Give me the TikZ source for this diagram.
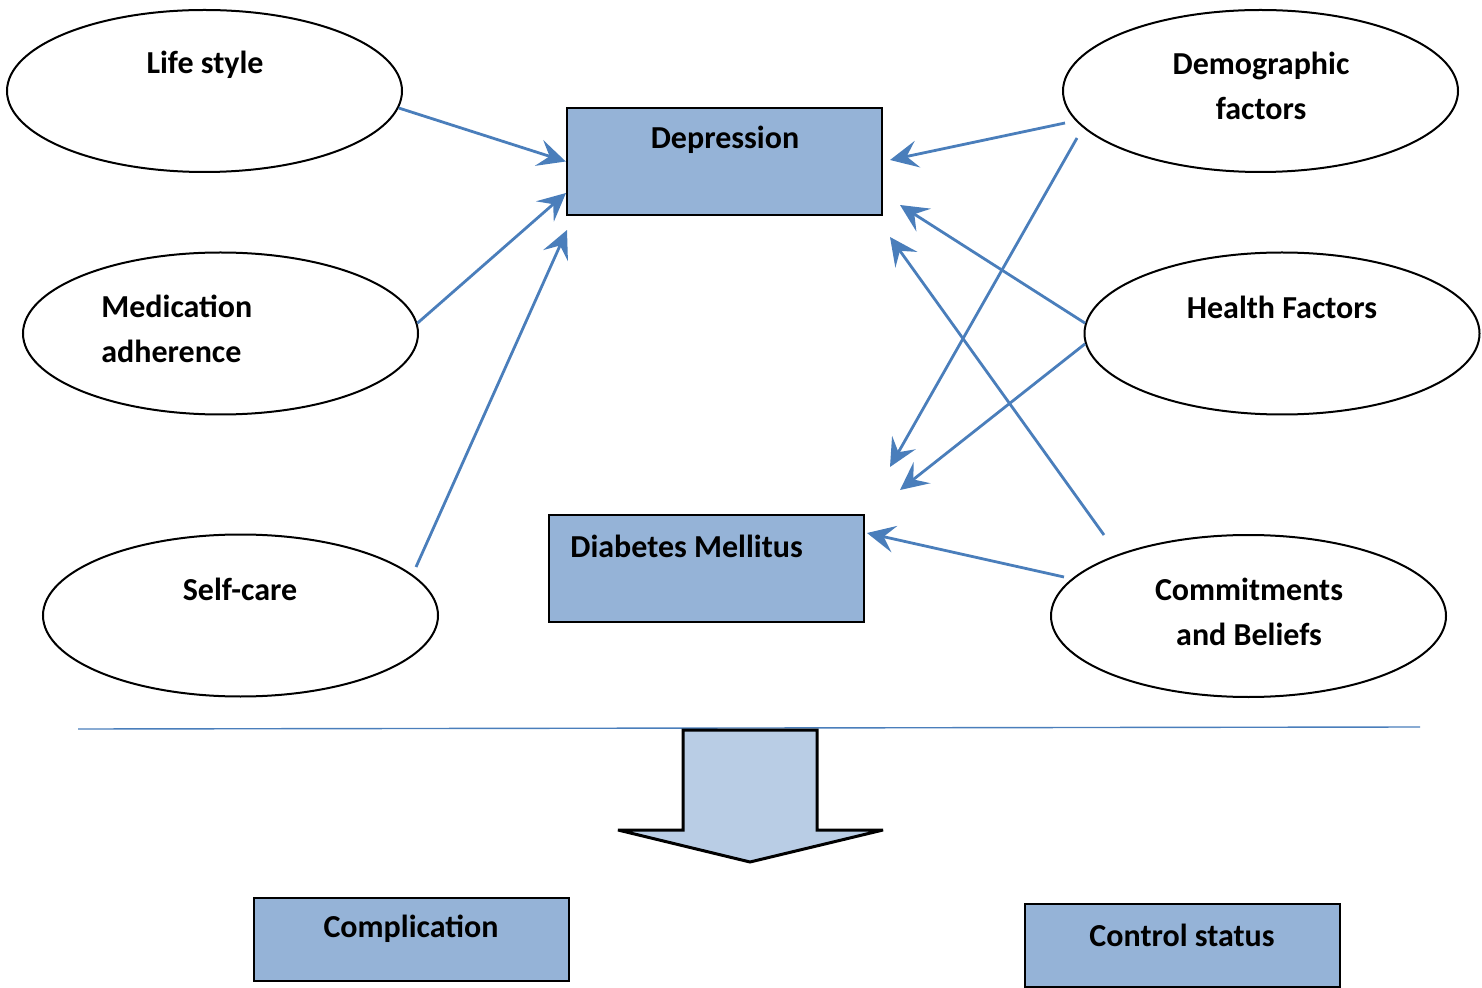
\documentclass[tikz,border=0pt]{standalone}
\usepackage{fontspec}
\setmainfont{Carlito}
\usepackage{tikz}
\usetikzlibrary{shapes.geometric, arrows.meta, positioning, calc}
\definecolor{linkblue}{HTML}{4A7EBB}
\definecolor{boxblue}{HTML}{95B3D7}
\definecolor{arrowfill}{HTML}{B9CDE5}
\tikzstyle{arrow} = [line width=1.4pt, draw=linkblue, -{Stealth[length=14pt, width=13.5pt, inset=5.5pt, fill=linkblue]}]

\begin{document}
\begin{tikzpicture}
	[x=0.5pt, y=-0.5pt,
	factor/.style={draw, ellipse, line width=1pt, inner sep=0pt, minimum width=197.5pt, minimum height=81pt},
	box/.style={draw, line width=1.2pt, fill=boxblue, inner sep=0pt, minimum width=157.5pt},
	lbl/.style={font=\bfseries\fontsize{16}{22.5}\selectfont, align=center, inner sep=0pt}]
	\useasboundingbox (0,0) rectangle (1482,988);

	% factors on the left
	\node[factor] (life) at (204.5, 91) {};
	\node[lbl] (life-t) at (205, 65) {Life style};
	\node[factor] (med) at (220.5, 333.5) {};
	\node[lbl, align=left, anchor=west] (med-t) at (101, 329) {Medication\\adherence};
	\node[factor] (self) at (240.5, 615.5) {};
	\node[lbl] (self-t) at (240, 589) {Self-care};

	% factors on the right
	\node[factor] (demo) at (1260.5, 91) {};
	\node[lbl] (demo-t) at (1261, 86) {Demographic\\factors};
	\node[factor] (health) at (1282, 333.5) {};
	\node[lbl] (health-t) at (1282, 307) {Health Factors};
	\node[factor] (commit) at (1248.5, 616) {};
	\node[lbl] (commit-t) at (1249, 612) {Commitments\\and Beliefs};

	% boxes
	\node[box, minimum height=53.5pt] (dep) at (724.5, 161.5) {};
	\node[lbl] (dep-t) at (725, 140) {Depression};
	\node[box, minimum height=53.5pt] (dm) at (706.5, 568.5) {};
	\node[lbl, anchor=west] (dm-t) at (570, 546) {Diabetes Mellitus};
	\node[box, minimum height=41.5pt] (comp) at (411.5, 939.5) {};
	\node[lbl] (comp-t) at (411, 929) {Complication};
	\node[box, minimum height=41.5pt] (ctrl) at (1182.5, 945.5) {};
	\node[lbl] (ctrl-t) at (1182, 935) {Control status};

	% free arrow ends
	\coordinate (d2) at (566, 193);
	\coordinate (d3) at (567, 230);
	\coordinate (d4) at (890, 160);
	\coordinate (d5) at (900, 205);
	\coordinate (d6) at (890, 237);
	\coordinate (m7) at (890, 467);
	\coordinate (m8) at (900, 490);
	\coordinate (m9) at (867, 533);
	\coordinate (c3) at (416, 567);
	\coordinate (c4) at (1065, 123);
	\coordinate (c6) at (1104, 535);
	\coordinate (c7) at (1077, 138);
	\coordinate (c9) at (1064, 577);

	\draw[arrow] (life.-5) -- (dep.west);
	\draw[arrow] (med.3.5) -- (d2);
	\draw[arrow] (c3) -- (d3);
	\draw[arrow] (c4) -- (d4);
	\draw[arrow] (health.177.5) -- (d5);
	\draw[arrow] (c6) -- (d6);
	\draw[arrow] (c7) -- (m7);
	\draw[arrow] (health.183.5) -- (m8);
	\draw[arrow] (c9) -- (m9);

	% separator and block arrow
	\coordinate (sep1) at (78, 729);
	\coordinate (sep2) at (1420, 727);
	\draw[linkblue, line width=0.7pt] (sep1) -- (sep2);
	\draw[line width=1.5pt, fill=arrowfill, line join=miter, miter limit=1.5]
		(683, 730) -- (817, 730) -- (817, 830) -- (883, 830) -- (750, 862)
		-- (618, 830) -- (683, 830) -- cycle;
\end{tikzpicture}
\end{document}
